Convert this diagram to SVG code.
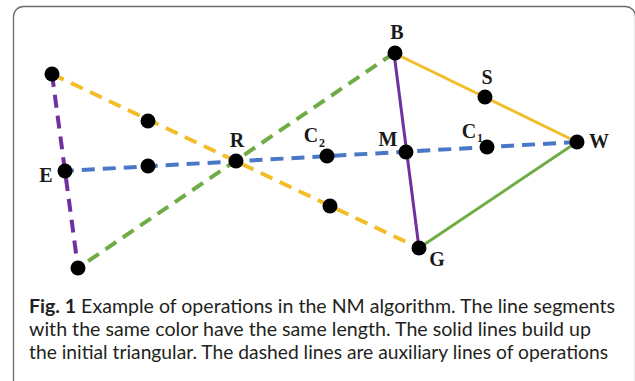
<svg xmlns="http://www.w3.org/2000/svg" width="635" height="381" viewBox="0 0 635 381">
<style>
.frame{fill:none;stroke:#6a6a6a;stroke-width:1.3}
.dash{fill:none;stroke-width:4;stroke-dasharray:13 8}
.solid{fill:none;stroke-width:3}
.y{stroke:#f3bd2a}.p{stroke:#7030a0}.g{stroke:#6fac46}.b{stroke:#4a78c6}
.dot{fill:#000}
.lbl{font-family:"Liberation Serif",serif;font-weight:bold;font-size:20px;fill:#1a1a1a;text-anchor:middle}
.sub{font-family:"Liberation Serif",serif;font-weight:bold;font-size:12px;fill:#1a1a1a}
.cap{font-family:Lato,"Liberation Sans",sans-serif;font-size:19px;fill:#231f20}
</style>
<rect width="635" height="381" fill="#fff"/>
<path class="frame" d="M13.5,381 V16.5 A10,10 0 0 1 23.5,6.5 H625 A10,10 0 0 1 635.5,17 V381"/>
<g id="connectors">
<line class="dash y" x1="52" y1="74" x2="419" y2="248"/>
<line class="dash g" x1="394" y1="53" x2="78" y2="268"/>
<line class="dash p" x1="52" y1="74" x2="78" y2="268"/>
<line class="dash b" x1="577" y1="142" x2="65" y2="171"/>
<line class="solid y" x1="394" y1="53" x2="577" y2="142"/>
<line class="solid p" x1="394" y1="53" x2="419" y2="248"/>
<line class="solid g" x1="419" y1="248" x2="577" y2="142"/>
</g>
<g id="node-top-left"><circle class="dot" cx="52" cy="74" r="7.5"/></g>
<g id="node-E"><circle class="dot" cx="65" cy="171" r="7.5"/><text class="lbl" x="46" y="182">E</text></g>
<g id="node-bottom-left"><circle class="dot" cx="78" cy="268" r="7.5"/></g>
<g id="node-yellow-mid"><circle class="dot" cx="148" cy="121" r="7.5"/></g>
<g id="node-blue-mid"><circle class="dot" cx="148" cy="166" r="7.5"/></g>
<g id="node-R"><circle class="dot" cx="236" cy="161" r="7.5"/><text class="lbl" x="237" y="147">R</text></g>
<g id="node-C2"><circle class="dot" cx="327" cy="156" r="7.5"/><text class="lbl" x="311" y="142">C</text><text class="sub" x="319" y="147">2</text></g>
<g id="node-yellow-low"><circle class="dot" cx="330" cy="206" r="7.5"/></g>
<g id="node-B"><circle class="dot" cx="395" cy="53" r="7.5"/><text class="lbl" x="397" y="39">B</text></g>
<g id="node-M"><circle class="dot" cx="406" cy="152" r="7.5"/><text class="lbl" x="388" y="146">M</text></g>
<g id="node-S"><circle class="dot" cx="485" cy="97" r="7.5"/><text class="lbl" x="487" y="84">S</text></g>
<g id="node-C1"><circle class="dot" cx="487" cy="147" r="7.5"/><text class="lbl" x="469" y="138">C</text><text class="sub" x="477" y="142">1</text></g>
<g id="node-W"><circle class="dot" cx="577" cy="142" r="7.5"/><text class="lbl" x="599" y="148">W</text></g>
<g id="node-G"><circle class="dot" cx="419" cy="248" r="7.5"/><text class="lbl" x="437" y="266">G</text></g>
<g id="caption">
<text class="cap" x="29" y="313" textLength="586" lengthAdjust="spacingAndGlyphs"><tspan font-weight="bold">Fig. 1</tspan> Example of operations in the NM algorithm. The line segments</text>
<text class="cap" x="29" y="336" textLength="562" lengthAdjust="spacingAndGlyphs">with the same color have the same length. The solid lines build up</text>
<text class="cap" x="29" y="359" textLength="579" lengthAdjust="spacingAndGlyphs">the initial triangular. The dashed lines are auxiliary lines of operations</text>
</g>
</svg>
